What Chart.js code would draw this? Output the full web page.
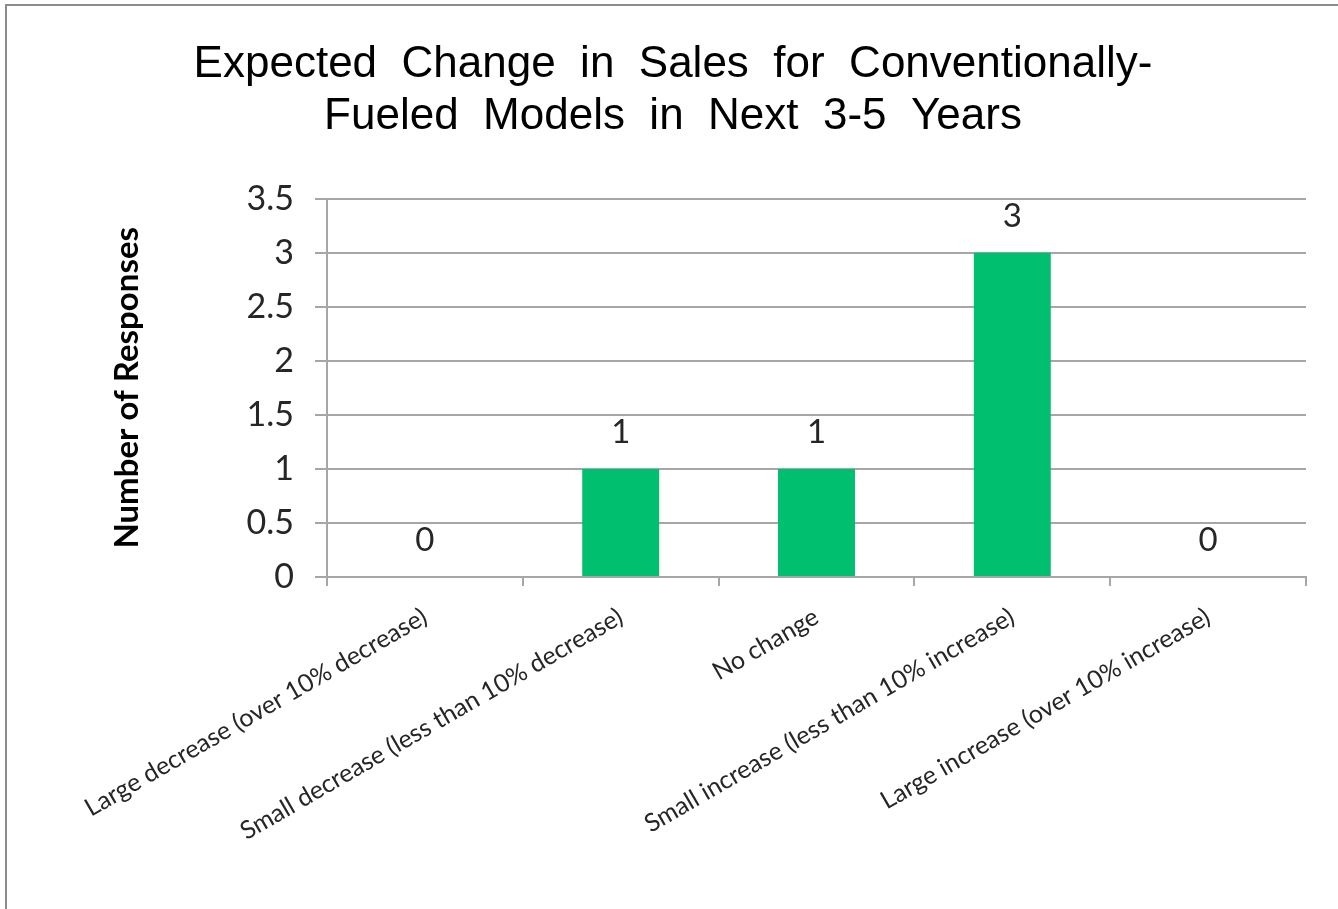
<!DOCTYPE html>
<html>
<head>
<meta charset="utf-8">
<title>Expected Change in Sales</title>
<script src="https://cdn.jsdelivr.net/npm/chart.js@4.4.1/dist/chart.umd.min.js"></script>
<style>
    body { margin: 0; background: #fff; }
    canvas { display: block; }
</style>
</head>
<body>
<canvas id="expectedChange" width="1338" height="909"></canvas>
<script>
// categorias del eje x y respuestas
const categories = [
    "Large decrease (over 10% decrease)",
    "Small decrease (less than 10% decrease)",
    "No change",
    "Small increase (less than 10% increase)",
    "Large increase (over 10% increase)",
];
const responses = [0, 1, 1, 3, 0];
const yMax = 3.5;
const yStep = 0.5;
const titleLines = ["Expected  Change  in  Sales  for  Conventionally-", "Fueled  Models  in  Next  3-5  Years"];

const gridColor = "#a6a6a6";
const labelFont = "Lato, 'Open Sans', sans-serif";

// valor encima de cada barra
const valueLabels = {
    id: "valueLabels",
    afterDatasetsDraw(chart) {
        let ctx = chart.ctx;
        let meta = chart.getDatasetMeta(0);
        ctx.save();
        ctx.font = "33px " + labelFont;
        ctx.fillStyle = "#262626";
        ctx.textAlign = "center";
        ctx.textBaseline = "alphabetic";
        meta.data.forEach(function (bar, i) {
            ctx.fillText(String(responses[i]), bar.x, bar.y - 26);
        });
        ctx.restore();
    },
};

// borde gris del recuadro
const frame = {
    id: "frame",
    beforeDraw(chart) {
        let ctx = chart.ctx;
        ctx.save();
        ctx.strokeStyle = "#8c8c8c";
        ctx.lineWidth = 2;
        ctx.beginPath();
        ctx.moveTo(6, chart.height + 5);
        ctx.lineTo(6, 5);
        ctx.lineTo(chart.width + 5, 5);
        ctx.stroke();
        ctx.restore();
    },
};

let ctx = document.getElementById("expectedChange");
let graphic = new Chart(ctx, {
    type: "bar",
    data: {
        labels: categories,
        datasets: [
            {
                label: "Number of Responses",
                data: responses,
                backgroundColor: "#00bf6f",
                borderWidth: 0,
                categoryPercentage: 1,
                barPercentage: 0.393,
            },
        ],
    },
    options: {
        responsive: false,
        animation: false,
        layout: {
            padding: { left: 40, right: 32, top: 0, bottom: 0 },
        },
        scales: {
            x: {
                offset: true,
                grid: {
                    offset: true,
                    drawOnChartArea: false,
                    drawTicks: true,
                    tickLength: 9,
                    color: gridColor,
                    lineWidth: 2,
                },
                border: { color: gridColor, width: 2 },
                ticks: {
                    autoSkip: false,
                    minRotation: 30,
                    maxRotation: 30,
                    padding: 16,
                    color: "#262626",
                    font: { family: labelFont, size: 25 },
                },
                afterFit: function (scale) {
                    scale.height = 332;
                },
            },
            y: {
                min: 0,
                max: yMax,
                grid: {
                    color: gridColor,
                    lineWidth: 2,
                    tickLength: 12,
                },
                border: { color: gridColor, width: 2 },
                ticks: {
                    stepSize: yStep,
                    padding: 21,
                    color: "#262626",
                    font: { family: labelFont, size: 34 },
                    callback: function (value) {
                        return String(value);
                    },
                },
                title: {
                    display: true,
                    text: "Number of Responses",
                    color: "#000",
                    font: { family: labelFont, size: 33, weight: "bold" },
                    padding: { top: 68, bottom: 0 },
                },
                afterFit: function (scale) {
                    scale.width = 287;
                },
            },
        },
        plugins: {
            legend: { display: false },
            tooltip: { enabled: false },
            title: {
                display: true,
                text: titleLines,
                color: "#000",
                font: { family: "'Liberation Sans', Arial, sans-serif", size: 44, weight: "normal", lineHeight: 1.2 },
                padding: { top: 38, bottom: 55 },
            },
        },
    },
    plugins: [frame, valueLabels],
});
</script>
</body>
</html>
